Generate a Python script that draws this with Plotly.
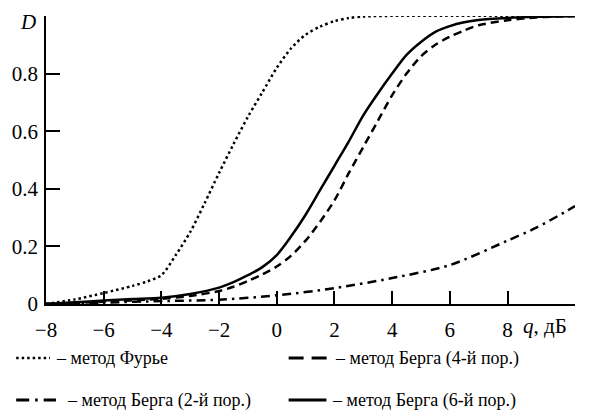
import plotly.graph_objects as go

# ---------------- data ----------------
q_fourier = [-8, -7, -6, -5, -4.5, -4, -3.5, -3, -2.5, -2, -1.5, -1, -0.5, 0, 0.5, 1, 1.5, 2, 2.5, 3, 3.5, 10.34]
D_fourier = [0.0, 0.016, 0.038, 0.063, 0.078, 0.10, 0.17, 0.25, 0.35, 0.455, 0.555, 0.65, 0.735, 0.82, 0.888, 0.935, 0.963, 0.982, 0.993, 0.998, 1.0, 1.0]

q_berg2 = [-8, -6, -4, -2, 0, 2, 4, 6, 8, 9, 10, 10.34]
D_berg2 = [0.0, 0.005, 0.01, 0.015, 0.03, 0.055, 0.09, 0.135, 0.22, 0.265, 0.32, 0.34]

q_berg4 = [-8, -6, -4, -3, -2, -1.5, -1, -0.5, 0, 0.5, 1, 1.5, 2, 2.5, 3, 3.5, 4, 4.5, 5, 5.5, 6, 6.5, 7, 8, 9, 10.34]
D_berg4 = [0.0, 0.008, 0.018, 0.028, 0.045, 0.06, 0.08, 0.103, 0.13, 0.168, 0.22, 0.285, 0.36, 0.455, 0.545, 0.635, 0.725, 0.80, 0.86, 0.90, 0.928, 0.95, 0.968, 0.985, 0.995, 1.0]

q_berg6 = [-8, -7, -6, -5, -4, -3, -2, -1.5, -1, -0.5, 0, 0.5, 1, 1.5, 2, 2.5, 3, 3.5, 4, 4.5, 5, 5.5, 6, 6.5, 7, 8, 9, 10.34]
D_berg6 = [0.0, 0.006, 0.012, 0.017, 0.022, 0.035, 0.057, 0.076, 0.10, 0.128, 0.17, 0.235, 0.31, 0.395, 0.48, 0.565, 0.655, 0.73, 0.80, 0.865, 0.91, 0.945, 0.965, 0.978, 0.986, 0.993, 0.997, 1.0]

x_tickvals = [-8, -6, -4, -2, 0, 2, 4, 6, 8]
x_ticktext = ["\u22128", "\u22126", "\u22124", "\u22122", "0", "2", "4", "6", "8"]
y_tickvals = [0, 0.2, 0.4, 0.6, 0.8]
y_ticktext = ["0", "0.2", "0.4", "0.6", "0.8"]

names = ["\u2013 метод Фурье", "\u2013 метод Берга (4-й пор.)",
         "\u2013 метод Берга (2-й пор.)", "\u2013 метод Берга (6-й пор.)"]

# ---------------- layout constants ----------------
W, H = 596, 419
L, R, T, B = 43, 21, 16, 115
PW, PH = W - L - R, H - T - B
FONT = "Liberation Serif"


def px(xp):
    return (xp - L) / PW


def py(yp):
    return (H - B - yp) / PH


fig = go.Figure()
fig.add_trace(go.Scatter(x=q_fourier, y=D_fourier, mode="lines", line=dict(color="black", width=2.5, dash="2.5px,3px", shape="spline", smoothing=0.8), showlegend=False))
fig.add_trace(go.Scatter(x=q_berg2, y=D_berg2, mode="lines", line=dict(color="black", width=2.5, dash="9px,5px,2.5px,5px", shape="spline", smoothing=0.8), showlegend=False))
fig.add_trace(go.Scatter(x=q_berg4, y=D_berg4, mode="lines", line=dict(color="black", width=2.5, dash="8px,5px", shape="spline", smoothing=0.8), showlegend=False))
fig.add_trace(go.Scatter(x=q_berg6, y=D_berg6, mode="lines", line=dict(color="black", width=2.5, shape="spline", smoothing=0.8), showlegend=False))

# legend samples (manual)
shapes = []
def seg(x0, x1, y, dash, width=2.5):
    shapes.append(dict(type="line", xref="paper", yref="paper", x0=px(x0), x1=px(x1), y0=py(y), y1=py(y),
                       line=dict(color="black", width=width, dash=dash)))

seg(13, 47, 358, "2.5px,3px")
seg(287, 328, 358, "15px,8px", 3)
seg(13, 53, 400, "13px,6px,2.5px,6px", 3)
seg(287, 325, 400, "solid", 3)

ann = []
def text(x, y, s, size=18, xanchor="left"):
    ann.append(dict(text=s, x=px(x), y=py(y), xref="paper", yref="paper", xanchor=xanchor, yanchor="middle",
                    showarrow=False, font=dict(family=FONT, size=size, color="black")))

text(51, 358, names[0])
text(332, 358, names[1])
text(62, 400, names[2])
text(329, 400, names[3])
text(25, 22, "<i>D</i>", size=21, xanchor="center")
text(521, 326, "<i>q</i>, дБ", size=21)

tickfont = dict(family=FONT, size=21, color="black")

fig.update_layout(
    width=W, height=H,
    margin=dict(l=L, r=R, t=T, b=B, pad=0),
    paper_bgcolor="white", plot_bgcolor="white",
    font=dict(family=FONT, size=21, color="black"),
    shapes=shapes, annotations=ann,
    showlegend=False,
)
fig.update_xaxes(range=[-8, 10.34], showline=True, linecolor="black", linewidth=1.5, showgrid=False, zeroline=False,
                 ticks="inside", ticklen=13, tickwidth=1.5, tickcolor="black", tickfont=tickfont,
                 tickvals=x_tickvals, ticktext=x_ticktext, ticklabelstandoff=6)
fig.update_yaxes(range=[0, 1], showline=True, linecolor="black", linewidth=1.5, showgrid=False, zeroline=False,
                 ticks="inside", ticklen=14, tickwidth=1.5, tickcolor="black", tickfont=tickfont,
                 tickvals=y_tickvals, ticktext=y_ticktext, ticklabelstandoff=2)

fig.write_html("out.html")
